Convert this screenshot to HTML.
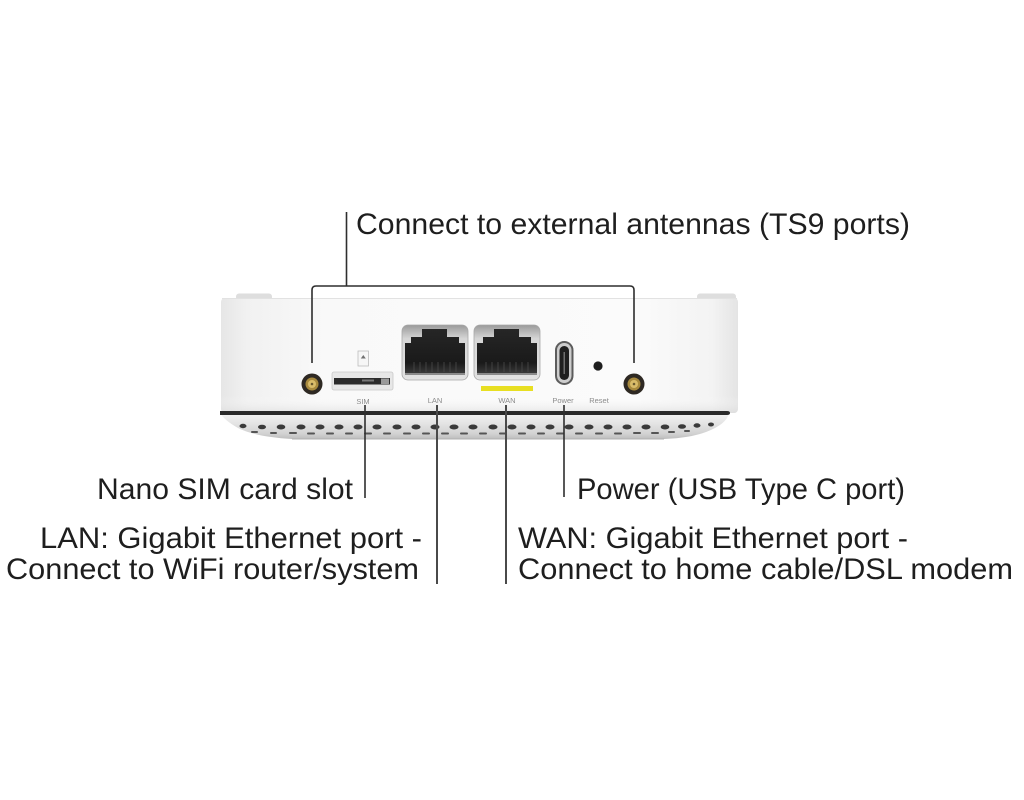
<!DOCTYPE html>
<html>
<head>
<meta charset="utf-8">
<style>
  html, body { margin: 0; padding: 0; background: #ffffff; }
  body { width: 1024px; height: 800px; overflow: hidden; }
  svg { display: block; }
  .lbl { font-family: "Liberation Sans", Arial, sans-serif; font-size: 30px; fill: #1e1e1e; }
  .tiny { font-family: "Liberation Sans", Arial, sans-serif; font-size: 7.5px; fill: #8c8c8c; text-anchor: middle; }
</style>
</head>
<body>
<svg width="1024" height="800" viewBox="0 0 1024 800" xmlns="http://www.w3.org/2000/svg">
  <defs>
    <linearGradient id="bodyGrad" x1="0" y1="0" x2="1" y2="0">
      <stop offset="0" stop-color="#e6e6e6"/>
      <stop offset="0.05" stop-color="#f1f1f1"/>
      <stop offset="0.2" stop-color="#f9f9f9"/>
      <stop offset="0.8" stop-color="#fbfbfb"/>
      <stop offset="0.95" stop-color="#f3f3f3"/>
      <stop offset="1" stop-color="#e4e4e4"/>
    </linearGradient>
    <linearGradient id="bodyV" x1="0" y1="0" x2="0" y2="1">
      <stop offset="0" stop-color="#ffffff" stop-opacity="0.0"/>
      <stop offset="0.85" stop-color="#ffffff" stop-opacity="0"/>
      <stop offset="1" stop-color="#d8d8d8" stop-opacity="0.6"/>
    </linearGradient>
    <linearGradient id="baseGrad" x1="0" y1="0" x2="0" y2="1">
      <stop offset="0" stop-color="#f4f4f4"/>
      <stop offset="0.35" stop-color="#e6e6e6"/>
      <stop offset="0.8" stop-color="#d2d2d2"/>
      <stop offset="1" stop-color="#bdbdbd"/>
    </linearGradient>
    <linearGradient id="portFrame" x1="0" y1="0" x2="0" y2="1">
      <stop offset="0" stop-color="#9a9a9a"/>
      <stop offset="0.25" stop-color="#d6d6d6"/>
      <stop offset="1" stop-color="#e2e2e2"/>
    </linearGradient>
    <linearGradient id="portIn" x1="0" y1="0" x2="0" y2="1">
      <stop offset="0" stop-color="#262626"/>
      <stop offset="0.75" stop-color="#1a1a1a"/>
      <stop offset="1" stop-color="#3c3c3c"/>
    </linearGradient>
    <clipPath id="baseClip">
      <path d="M220,413 L729,413 Q727,424 706,432 Q690,438 664,439 L292,439 Q256,437 238,428 Q224,420 220,413 Z"/>
    </clipPath>
    <g id="rj45">
      <rect x="402" y="325" width="66" height="55" rx="6" fill="url(#portFrame)" stroke="#a8a8a8" stroke-width="0.8"/>
      <polygon points="405,374 405,343 411,343 411,337 422,337 422,329 447,329 447,337 459,337 459,343 465,343 465,374" fill="url(#portIn)"/>
      <g stroke="#4a4a4a" stroke-width="0.8">
        <line x1="414" y1="362" x2="414" y2="372"/>
        <line x1="420" y1="362" x2="420" y2="372"/>
        <line x1="426" y1="362" x2="426" y2="372"/>
        <line x1="432" y1="362" x2="432" y2="372"/>
        <line x1="438" y1="362" x2="438" y2="372"/>
        <line x1="444" y1="362" x2="444" y2="372"/>
        <line x1="450" y1="362" x2="450" y2="372"/>
        <line x1="456" y1="362" x2="456" y2="372"/>
      </g>
      <rect x="405" y="373" width="60" height="2" fill="#8a8a8a"/>
    </g>
    <g id="ant">
      <circle cx="0" cy="0" r="10.5" fill="#2e2923"/>
      <circle cx="0" cy="0" r="6.5" fill="#a88a3e"/>
      <circle cx="0" cy="0" r="4" fill="#d9bc6a"/>
      <circle cx="0" cy="0" r="1.3" fill="#6a5a30"/>
    </g>
  </defs>

  <!-- Device body -->
  <rect x="236" y="293.5" width="36" height="7" rx="3" fill="#dedede"/>
  <rect x="697" y="293.5" width="39" height="7" rx="3" fill="#dedede"/>
  <rect x="221" y="298" width="517" height="115" rx="4" fill="url(#bodyGrad)"/>
  <rect x="221" y="298" width="517" height="115" rx="4" fill="url(#bodyV)"/>
  <line x1="222" y1="298.5" x2="737" y2="298.5" stroke="#e2e2e2" stroke-width="1"/>

  <!-- Base / grille -->
  <path d="M220,413 L729,413 Q727,424 706,432 Q690,438 664,439 L292,439 Q256,437 238,428 Q224,420 220,413 Z" fill="url(#baseGrad)"/>
  <g clip-path="url(#baseClip)">
    <g fill="#3a3a3a">
      <ellipse cx="243" cy="426" rx="3.5" ry="2.2"/>
      <ellipse cx="262" cy="427" rx="4" ry="2.3"/>
      <ellipse cx="281" cy="427" rx="4.3" ry="2.5"/>
      <ellipse cx="301" cy="427" rx="4.5" ry="2.5"/>
      <ellipse cx="320" cy="427" rx="4.5" ry="2.5"/>
      <ellipse cx="339" cy="427" rx="4.5" ry="2.5"/>
      <ellipse cx="358" cy="427" rx="4.5" ry="2.5"/>
      <ellipse cx="377" cy="427" rx="4.5" ry="2.5"/>
      <ellipse cx="397" cy="427" rx="4.5" ry="2.5"/>
      <ellipse cx="416" cy="427" rx="4.5" ry="2.5"/>
      <ellipse cx="435" cy="427" rx="4.5" ry="2.5"/>
      <ellipse cx="454" cy="427" rx="4.5" ry="2.5"/>
      <ellipse cx="473" cy="427" rx="4.5" ry="2.5"/>
      <ellipse cx="493" cy="427" rx="4.5" ry="2.5"/>
      <ellipse cx="512" cy="427" rx="4.5" ry="2.5"/>
      <ellipse cx="531" cy="427" rx="4.5" ry="2.5"/>
      <ellipse cx="550" cy="427" rx="4.5" ry="2.5"/>
      <ellipse cx="569" cy="427" rx="4.5" ry="2.5"/>
      <ellipse cx="589" cy="427" rx="4.5" ry="2.5"/>
      <ellipse cx="608" cy="427" rx="4.5" ry="2.5"/>
      <ellipse cx="627" cy="427" rx="4.5" ry="2.5"/>
      <ellipse cx="646" cy="427" rx="4.5" ry="2.5"/>
      <ellipse cx="665" cy="427" rx="4.3" ry="2.5"/>
      <ellipse cx="682" cy="426.5" rx="4" ry="2.3"/>
      <ellipse cx="697" cy="425.5" rx="3.5" ry="2.2"/>
      <ellipse cx="711" cy="424.5" rx="3" ry="2"/>
    </g>
    <g fill="#555">
      <rect x="251" y="431" width="7" height="2" rx="1"/>
      <rect x="270" y="432" width="7" height="2" rx="1"/>
      <rect x="289" y="432" width="8" height="2" rx="1"/>
      <rect x="307" y="432.5" width="8" height="2" rx="1"/>
      <rect x="326" y="432.5" width="8" height="2" rx="1"/>
      <rect x="345" y="432.5" width="8" height="2" rx="1"/>
      <rect x="364" y="432.5" width="8" height="2" rx="1"/>
      <rect x="383" y="432.5" width="8" height="2" rx="1"/>
      <rect x="403" y="432.5" width="8" height="2" rx="1"/>
      <rect x="422" y="432.5" width="8" height="2" rx="1"/>
      <rect x="441" y="432.5" width="8" height="2" rx="1"/>
      <rect x="460" y="432.5" width="8" height="2" rx="1"/>
      <rect x="479" y="432.5" width="8" height="2" rx="1"/>
      <rect x="499" y="432.5" width="8" height="2" rx="1"/>
      <rect x="518" y="432.5" width="8" height="2" rx="1"/>
      <rect x="537" y="432.5" width="8" height="2" rx="1"/>
      <rect x="556" y="432.5" width="8" height="2" rx="1"/>
      <rect x="575" y="432.5" width="8" height="2" rx="1"/>
      <rect x="595" y="432.5" width="8" height="2" rx="1"/>
      <rect x="614" y="432.5" width="8" height="2" rx="1"/>
      <rect x="633" y="432" width="8" height="2" rx="1"/>
      <rect x="651" y="432" width="8" height="2" rx="1"/>
      <rect x="668" y="431" width="7" height="2" rx="1"/>
      <rect x="684" y="430" width="6" height="2" rx="1"/>
    </g>
  </g>
  <path d="M292,439 L664,439" stroke="#b0b0b0" stroke-width="1"/>
  <!-- dark separator line -->
  <path d="M220,411 L727,411 Q730,411 730,413 Q730,415 727,415 L220,415 Z" fill="#2a2a2a"/>

  <!-- Antenna connectors -->
  <use href="#ant" transform="translate(312,384)"/>
  <use href="#ant" transform="translate(634,384)"/>

  <!-- SIM icon + slot -->
  <rect x="358" y="351" width="10.5" height="15" fill="#f6f6f6" stroke="#bdbdbd" stroke-width="0.8"/>
  <polygon points="360.8,358.5 365.8,358.5 363.3,355" fill="#707070"/>
  <rect x="332" y="372" width="61" height="18" rx="2" fill="#e7e7e7" stroke="#c9c9c9" stroke-width="0.8"/>
  <rect x="334" y="378" width="56" height="6.5" fill="#2b2b2b"/>
  <rect x="362" y="379.5" width="12" height="2" fill="#777"/>
  <rect x="381" y="378.5" width="8" height="5.5" fill="#9a9a9a"/>

  <!-- RJ45 ports -->
  <use href="#rj45"/>
  <use href="#rj45" transform="translate(72,0)"/>

  <!-- WAN yellow bar -->
  <rect x="481" y="386" width="52" height="5" fill="#e8df22"/>

  <!-- USB-C -->
  <rect x="555" y="341" width="18.5" height="44" rx="9.2" fill="#5c5c5c"/>
  <rect x="557" y="343" width="14.5" height="40" rx="7.2" fill="#cdcdcd"/>
  <rect x="559.5" y="346" width="9.5" height="34" rx="4.7" fill="#1f1f1f"/>
  <rect x="563.5" y="352" width="1.5" height="22" fill="#6f6f6f"/>

  <!-- Reset -->
  <circle cx="598" cy="366" r="4.6" fill="#1e1e1e"/>

  <!-- Tiny labels on device -->
  <text class="tiny" x="363" y="404">SIM</text>
  <text class="tiny" x="435" y="403">LAN</text>
  <text class="tiny" x="507" y="403">WAN</text>
  <text class="tiny" x="563" y="403">Power</text>
  <text class="tiny" x="599" y="403">Reset</text>

  <!-- Leader lines -->
  <g fill="none" stroke="#2e2e2e" stroke-width="1.6">
    <path d="M346.5,212 V286"/>
    <path d="M312,363 V290 Q312,286 316,286 H630 Q634,286 634,290 V363"/>
    <path d="M365,405 V498"/>
    <path d="M564,405 V497"/>
  </g>
  <g fill="none" stroke="#4a4a4a" stroke-width="2">
    <path d="M437,405 V584"/>
    <path d="M506,405 V584"/>
  </g>

  <!-- Callout labels -->
  <text class="lbl" x="356" y="234" textLength="554" lengthAdjust="spacingAndGlyphs">Connect to external antennas (TS9 ports)</text>
  <text class="lbl" x="97" y="499" textLength="256" lengthAdjust="spacingAndGlyphs">Nano SIM card slot</text>
  <text class="lbl" x="577" y="499" textLength="328" lengthAdjust="spacingAndGlyphs">Power (USB Type C port)</text>
  <text class="lbl" x="40" y="548" textLength="382" lengthAdjust="spacingAndGlyphs">LAN: Gigabit Ethernet port -</text>
  <text class="lbl" x="6" y="579" textLength="413" lengthAdjust="spacingAndGlyphs">Connect to WiFi router/system</text>
  <text class="lbl" x="518" y="548" textLength="390" lengthAdjust="spacingAndGlyphs">WAN: Gigabit Ethernet port -</text>
  <text class="lbl" x="518" y="579" textLength="495" lengthAdjust="spacingAndGlyphs">Connect to home cable/DSL modem</text>
</svg>
</body>
</html>
